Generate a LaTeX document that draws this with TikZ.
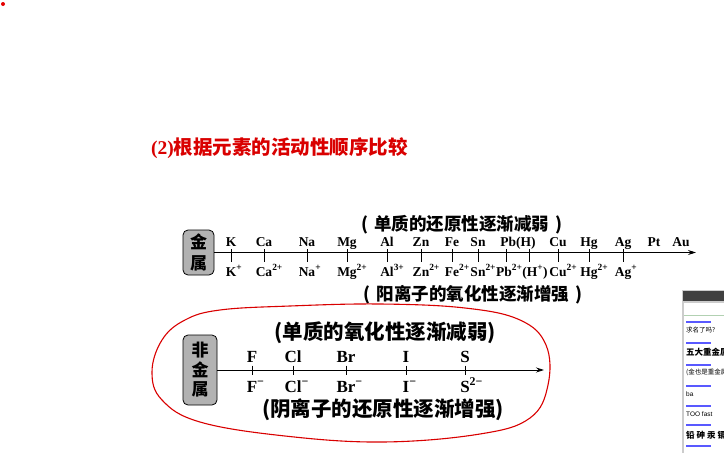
\documentclass[tikz,border=0pt]{standalone}
\usepackage{fontspec}
\setmainfont{Liberation Serif}
\newfontfamily\cjk{Noto Sans CJK SC}
\newfontfamily\chatsans{Liberation Sans}
\usetikzlibrary{arrows.meta, positioning}

\begin{document}
\begin{tikzpicture}[
    x=1pt, y=-1pt,
    every node/.style={inner sep=0pt, align=center},
    title/.style={font=\fontsize{19.5}{19.5}\selectfont\bfseries, text=red!85!black, anchor=west},
    groupbox/.style={rectangle, draw, thick, rounded corners=5pt, fill=black!30, font=\cjk\bfseries},
    metel/.style={font=\fontsize{13.5}{13.5}\selectfont\bfseries, anchor=base},
    nonel/.style={font=\fontsize{17}{17}\selectfont\bfseries, anchor=base},
    trend/.style={font=\cjk\bfseries\fontsize{17.5}{17.5}\selectfont},
    axis/.style={-{Stealth[length=8pt, width=5pt]}, thick},
    tick/.style={thick},
    chatname/.style={blue!65, line width=1.6pt},
    chatmsg/.style={font=\cjk\fontsize{6.5}{7}\selectfont, anchor=west}
]
    \useasboundingbox (0,0) rectangle (724,453);
    \fill[red!90!black] (3,4) circle (2);

    % Title
    \node[title] (ttl) at (151,148) {(2)\cjk 根据元素的活动性顺序比较};

    % Metals
    \node[groupbox, minimum width=31, minimum height=45,
          font=\cjk\bfseries\fontsize{17}{21}\selectfont] (metal) at (198.5,252.5) {金\\属};
    \coordinate (metalend) at (696,252.5);
    \draw[axis] (metal.east) -- (metalend);
    \node[trend] (mred) at (462,225) {(\hspace{6pt}单质的还原性逐渐减弱\hspace{6pt})};
    \node[trend] (mox) at (473,295) {(\hspace{6pt}阳离子的氧化性逐渐增强\hspace{6pt})};

    \foreach \px/\el/\ion in {231/K/{K\rlap{\textsuperscript{+}}},
        264/Ca/{Ca\rlap{\textsuperscript{2+}}}, 307/Na/{Na\rlap{\textsuperscript{+}}},
        347/Mg/{Mg\rlap{\textsuperscript{2+}}}, 387/Al/{Al\rlap{\textsuperscript{3+}}},
        421/Zn/{Zn\rlap{\textsuperscript{2+}}}, 452/Fe/{Fe\rlap{\textsuperscript{2+}}},
        478/Sn/{Sn\rlap{\textsuperscript{2+}}}, 558/Cu/{Cu\rlap{\textsuperscript{2+}}},
        589/Hg/{Hg\rlap{\textsuperscript{2+}}}, 623/Ag/{Ag\rlap{\textsuperscript{+}}}} {
        \draw[tick] (\px,249) -- (\px,262);
        \node[metel] (m-\el) at (\px,246) {\el};
        \node[metel] (i-\el) at (\px,276) {\ion};
    }
    % Pb and H share one label
    \draw[tick] (506,249) -- (506,262);
    \draw[tick] (529,249) -- (529,262);
    \node[metel] (m-PbH) at (518,246) {Pb(H)};
    \node[metel] (i-Pb) at (504,276) {Pb\rlap{\textsuperscript{2+}}};
    \node[metel] (i-H) at (535,276) {(H\textsuperscript{+})};
    \node[metel] (m-Pt) at (654,246) {Pt};
    \node[metel] (m-Au) at (681,246) {Au};

    % Non-metals
    \node[groupbox, minimum width=34, minimum height=70,
          font=\cjk\bfseries\fontsize{17}{19.5}\selectfont] (nonmetal) at (200,370) {非\\金\\属};
    \coordinate (nonend) at (544,370);
    \draw[axis] (nonmetal.east) -- (nonend);
    \node[trend, font=\cjk\bfseries\fontsize{20.5}{20.5}\selectfont] (nox) at (385,333) {(单质的氧化性逐渐减弱)};
    \node[trend, font=\cjk\bfseries\fontsize{20.5}{20.5}\selectfont] (nred) at (383,410) {(阴离子的还原性逐渐增强)};

    \foreach \px/\el/\ion in {252/F/{F\rlap{\textsuperscript{−}}},
        293/Cl/{Cl\rlap{\textsuperscript{−}}}, 346/Br/{Br\rlap{\textsuperscript{−}}},
        406/I/{I\rlap{\textsuperscript{−}}}, 465/S/{S\rlap{\textsuperscript{2−}}}} {
        \draw[tick] (\px,365.5) -- (\px,374.5);
        \node[nonel] (n-\el) at (\px,362) {\el};
        \node[nonel] (j-\el) at (\px,392) {\ion};
    }

    % hand drawn red loop
    \draw[red!85!black, line width=1.1pt] plot[smooth cycle, tension=0.65] coordinates {
        (152,372) (162,340) (185,320) (220,310) (290,306) (380,304) (465,308)
        (520,320) (546,345) (548,385) (530,418) (480,434) (383,442) (285,436)
        (200,422) (162,400)};

    % chat panel at the right edge
    \begin{scope}
        \clip (682,290) rectangle (724,453);
        \fill[black!20] (682,290) rectangle (724,453);
        \fill[black!75] (683,291) rectangle (724,301);
        \fill[white] (684,303) rectangle (724,453);
        \draw[green!40!black!30] (684,315) -- (724,315);
        \foreach \py in {322,343,365,386,406,425,446}
            \draw[chatname] (686,\py) -- (711,\py);
        \node[chatmsg] (c1) at (686,330) {求名了吗?};
        \node[chatmsg, font=\cjk\bfseries\fontsize{8.5}{9}\selectfont] (c2) at (686,352) {五大重金属};
        \node[chatmsg] (c3) at (686,372) {(金也是重金属};
        \node[chatmsg, font=\chatsans\fontsize{6.5}{7}\selectfont] (c4) at (686,394) {ba};
        \node[chatmsg, font=\chatsans\fontsize{6.5}{7}\selectfont] (c5) at (686,414) {TOO fast};
        \node[chatmsg, font=\cjk\bfseries\fontsize{8.5}{9}\selectfont] (c6) at (686,435) {铅 砷 汞 镉};
    \end{scope}
\end{tikzpicture}
\end{document}
